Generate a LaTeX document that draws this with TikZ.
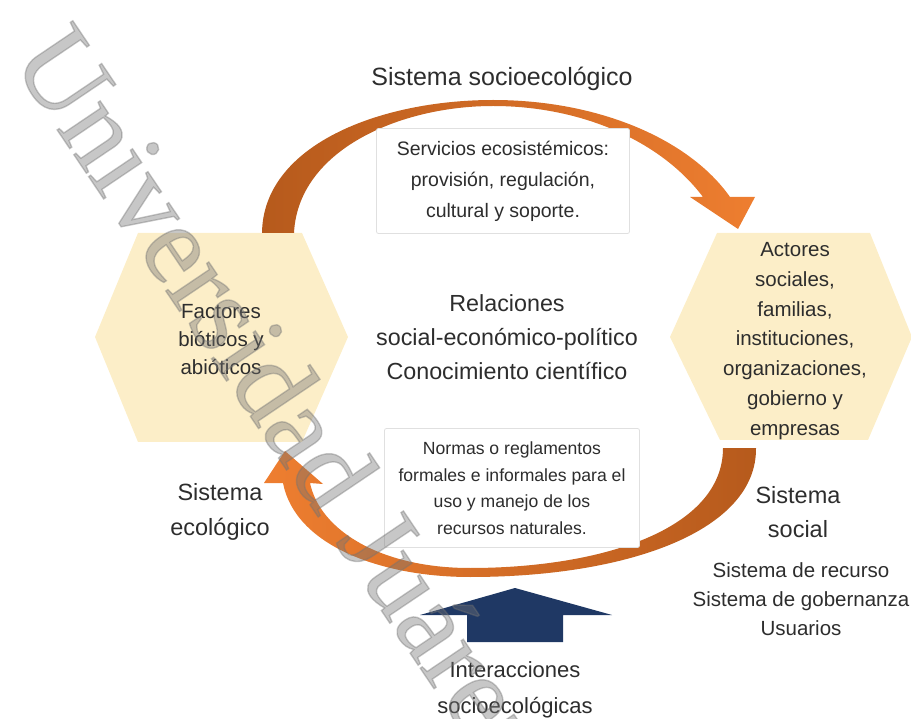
\documentclass[tikz,border=0pt]{standalone}
\usepackage{fontspec}
\setmainfont{Liberation Sans}
\newfontfamily\marcafont{Liberation Serif}
\usepackage{xcolor}
\usepackage{tikz}

\definecolor{hexfill}{RGB}{252,238,200}
\definecolor{arcbrown}{RGB}{182,90,28}
\definecolor{arcorange}{RGB}{238,126,48}
\definecolor{navy}{RGB}{31,56,100}
\definecolor{texto}{RGB}{45,45,45}
\definecolor{marca}{RGB}{115,115,115}

\tikzset{
  letra/.style={text=texto, align=center, inner sep=0pt},
  cuadro/.style={draw=black!12, fill=white, rounded corners=2pt, line width=0.8pt, align=center, text=texto, inner sep=0pt},
}

\begin{document}
\begin{tikzpicture}[x=1pt,y=-1pt]
\useasboundingbox (0,0) rectangle (911,719);

% hexagonos
\fill[hexfill] (95,337) -- (138,233) -- (302,233) -- (348,337) -- (302,442) -- (138,442) -- cycle;
\fill[hexfill] (670,337) -- (717,233) -- (870,233) -- (912,337) -- (868,440) -- (720,440) -- cycle;

% flecha curva superior
\shade[left color=arcbrown, right color=arcorange]
    (262,233) .. controls (263,145) and (380,100) .. (493,100)
    .. controls (600,100) and (690,140) .. (730,197)
    -- (755,197) -- (738,229) -- (690,197) -- (703,197)
    .. controls (660,140) and (580,106) .. (493,106)
    .. controls (400,106) and (298,150) .. (294,233) -- cycle;

% flecha curva inferior
\shade[left color=arcorange, right color=arcbrown]
    (723,448) .. controls (723,530) and (600,568) .. (470,568)
    .. controls (380,568) and (320,530) .. (310,483)
    -- (323,484) -- (285,451) -- (264,483) -- (283,483)
    .. controls (295,545) and (380,577) .. (470,577)
    .. controls (630,577) and (757,530) .. (756,448) -- cycle;

% flecha azul
\fill[navy] (515,588) -- (612,615) -- (563,615) -- (563,642) -- (467,642) -- (467,615) -- (420,615) -- cycle;

% textos
\node[letra, anchor=base, font=\fontsize{25}{30}\selectfont] (titulo) at (502,86) {Sistema socioecol\'ogico};
\node[cuadro, minimum width=253pt, minimum height=105pt, font=\fontsize{19.5}{31}\selectfont] (servicios) at (503,181)
    {Servicios ecosist\'emicos:\\provisi\'on, regulaci\'on,\\cultural y soporte.};
\node[letra, font=\fontsize{23.3}{34}\selectfont] (relaciones) at (507,337)
    {Relaciones\\social-econ\'omico-pol\'itico\\Conocimiento cient\'ifico};
\node[cuadro, minimum width=255pt, minimum height=119pt, font=\fontsize{17.6}{26.5}\selectfont] (normas) at (512,488)
    {Normas o reglamentos\\formales e informales para el\\uso y manejo de los\\recursos naturales.};
\node[letra, font=\fontsize{20.5}{28}\selectfont] (bioticos) at (221,340)
    {Factores\\bi\'oticos y\\abi\'oticos};
\node[letra, font=\fontsize{20.5}{29.7}\selectfont] (actores) at (795,341)
    {Actores\\sociales,\\familias,\\instituciones,\\organizaciones,\\gobierno y\\empresas};
\node[letra, font=\fontsize{23.5}{35}\selectfont] (ecologico) at (220,512) {Sistema\\ecol\'ogico};
\node[letra, font=\fontsize{23.5}{34}\selectfont] (social) at (798,512) {Sistema\\social};
\node[letra, font=\fontsize{20.5}{29}\selectfont] (recurso) at (801,599)
    {Sistema de recurso\\Sistema de gobernanza\\Usuarios};
\node[letra, font=\fontsize{22}{36}\selectfont] (interacciones) at (515,690)
    {Interacciones\\socioecol\'ogicas};

% marca de agua, letras con contorno
\node[rotate=-56, anchor=base west, inner sep=0pt, text=marca, text opacity=0.4,
    font=\marcafont\fontsize{113}{113}\selectfont] (marca) at (10,60)
    {\special{pdf:literal direct 2 Tr 1.4 w}Universidad Ju\'arez\special{pdf:literal direct 0 Tr}};
\end{tikzpicture}
\end{document}
